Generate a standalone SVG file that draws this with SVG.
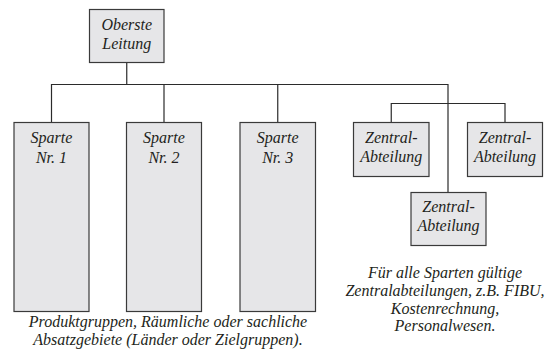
<svg xmlns="http://www.w3.org/2000/svg" width="547" height="358" viewBox="0 0 547 358">
  <style>
    .box { fill: #e6e6e8; stroke: #3a3a3a; stroke-width: 1.2; }
    .lbl { font-family: "Liberation Serif", "Times New Roman", serif; font-style: italic; font-size: 16px; fill: #231f20; text-anchor: middle; }
    .wire { fill: none; stroke: #2b2b2b; stroke-width: 1.2; }
  </style>
  <rect width="547" height="358" fill="#ffffff"/>

  <!-- connectors -->
  <g id="connectors" class="wire">
    <path d="M126.75 62.5 V84.5"/>
    <path d="M51.5 122.5 V84.5 H448 V192.5"/>
    <path d="M164 84.5 V122.5"/>
    <path d="M277.75 84.5 V122.5"/>
    <path d="M391.25 122.5 V103.5 H505 V122.5"/>
  </g>

  <!-- top management -->
  <g id="oberste-leitung">
    <rect class="box" x="89.5" y="9.5" width="74.5" height="53"/>
    <text class="lbl" x="126.75" y="30">Oberste</text>
    <text class="lbl" x="126.75" y="49.3">Leitung</text>
  </g>

  <!-- divisions -->
  <g id="sparte-1">
    <rect class="box" x="14" y="122.5" width="75" height="189"/>
    <text class="lbl" x="51.5" y="143.3">Sparte</text>
    <text class="lbl" x="51.5" y="162.7">Nr. 1</text>
  </g>
  <g id="sparte-2">
    <rect class="box" x="126.5" y="122.5" width="75" height="189"/>
    <text class="lbl" x="164" y="143.3">Sparte</text>
    <text class="lbl" x="164" y="162.7">Nr. 2</text>
  </g>
  <g id="sparte-3">
    <rect class="box" x="240" y="122.5" width="75.5" height="189"/>
    <text class="lbl" x="277.75" y="143.3">Sparte</text>
    <text class="lbl" x="277.75" y="162.7">Nr. 3</text>
  </g>

  <!-- central departments -->
  <g id="zentral-links">
    <rect class="box" x="353.5" y="122.5" width="75.5" height="54"/>
    <text class="lbl" x="391.25" y="143.3">Zentral-</text>
    <text class="lbl" x="391.25" y="161.7">Abteilung</text>
  </g>
  <g id="zentral-rechts">
    <rect class="box" x="467.5" y="122.5" width="75" height="54"/>
    <text class="lbl" x="505" y="143.3">Zentral-</text>
    <text class="lbl" x="505" y="161.7">Abteilung</text>
  </g>
  <g id="zentral-unten">
    <rect class="box" x="411" y="192.5" width="75" height="53"/>
    <text class="lbl" x="448.5" y="211.7">Zentral-</text>
    <text class="lbl" x="448.5" y="230.7">Abteilung</text>
  </g>

  <!-- captions -->
  <g id="caption-zentral">
    <text class="lbl" x="445" y="278">Für alle Sparten gültige</text>
    <text class="lbl" x="445" y="296">Zentralabteilungen, z.B. FIBU,</text>
    <text class="lbl" x="445" y="313.5">Kostenrechnung,</text>
    <text class="lbl" x="445" y="331">Personalwesen.</text>
  </g>
  <g id="caption-sparten">
    <text class="lbl" x="168" y="327">Produktgruppen, Räumliche oder sachliche</text>
    <text class="lbl" x="168" y="345">Absatzgebiete (Länder oder Zielgruppen).</text>
  </g>
</svg>
